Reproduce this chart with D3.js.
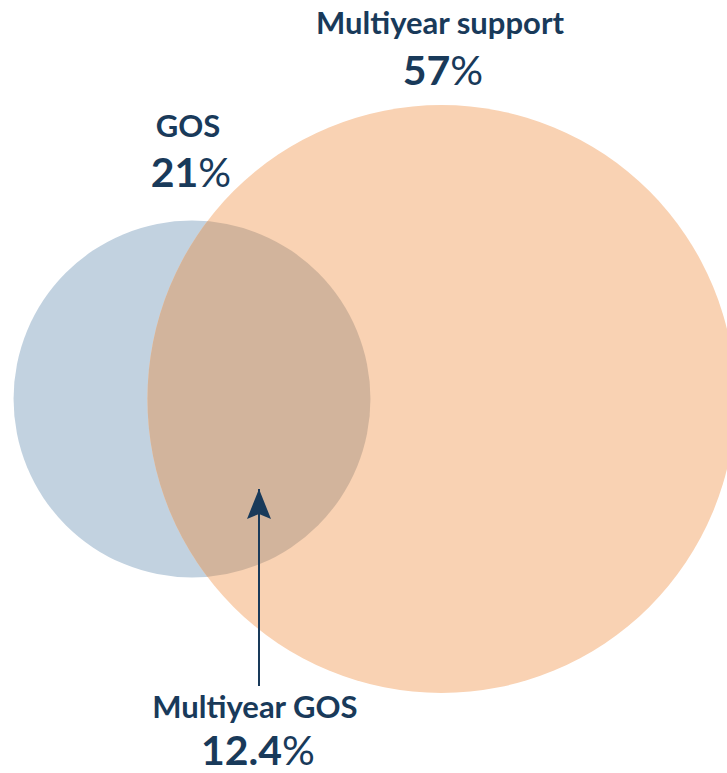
<!DOCTYPE html>
<html lang="en">
<head>
    <meta charset="UTF-8">
    <title>Multiyear GOS</title>
    <style>
        body { margin: 0; background: #fff; font-family: 'Lato', sans-serif; }
        svg { display: block; }
        .name { font-weight: 700; fill: #193a5a; }
        .num { fill: #193a5a; }
    </style>
</head>
<body>
<svg width="727" height="773"></svg>
<script src="https://d3js.org/d3.v7.min.js"></script>
<script>
    // Data
    const sets = ["GOS", "Multiyear support"];
    const shares = [21, 57];
    const overlapLabel = "Multiyear GOS";
    const overlapShare = 12.4;
    const colors = ["#c2d2e0", "#f9d2b3"];
    const overlapColor = "#d2b49c";

    const svg = d3.select("svg");
    const cy = 399;

    // radius proportional to sqrt of share
    const r = d3.scaleSqrt().domain([0, 57]).range([0, 294]);
    const r1 = r(shares[0]), r2 = r(shares[1]);

    // lens area of two circles at distance d
    function lens(d, a, b) {
        if (d >= a + b) return 0;
        if (d <= Math.abs(a - b)) return Math.PI * Math.min(a, b) ** 2;
        const p = a * a * Math.acos((d * d + a * a - b * b) / (2 * d * a));
        const q = b * b * Math.acos((d * d + b * b - a * a) / (2 * d * b));
        const s = 0.5 * Math.sqrt((-d + a + b) * (d + a - b) * (d - a + b) * (d + a + b));
        return p + q - s;
    }
    // find distance so the overlap matches its share
    const target = Math.PI * r1 * r1 * overlapShare / shares[0];
    let lo = Math.abs(r1 - r2), hi = r1 + r2;
    for (let i = 0; i < 60; i++) {
        const mid = (lo + hi) / 2;
        if (lens(mid, r1, r2) > target) lo = mid; else hi = mid;
    }
    const dist = (lo + hi) / 2;

    const x = d3.scaleLinear().domain([0, 1]).range([192, 192 + dist]);
    const circles = sets.map((s, i) => ({ name: s, share: shares[i], cx: x(i), r: r(shares[i]), color: colors[i] }));

    svg.append("defs").append("clipPath")
        .attr("id", "clipGos")
        .append("circle")
        .attr("cx", circles[0].cx).attr("cy", cy).attr("r", circles[0].r);

    svg.append("g").selectAll("circle")
        .data(circles)
        .join("circle")
        .attr("cx", d => d.cx)
        .attr("cy", cy)
        .attr("r", d => d.r)
        .attr("fill", d => d.color);

    // overlap region
    svg.append("circle")
        .attr("cx", circles[1].cx).attr("cy", cy).attr("r", circles[1].r)
        .attr("clip-path", "url(#clipGos)")
        .attr("fill", overlapColor);

    // arrow into the overlap
    const ax = 259;
    svg.select("defs").append("marker")
        .attr("id", "head")
        .attr("viewBox", "0 0 24 30")
        .attr("refX", 12).attr("refY", 0)
        .attr("markerWidth", 24).attr("markerHeight", 30)
        .attr("markerUnits", "userSpaceOnUse")
        .attr("orient", "0")
        .append("path")
        .attr("d", "M0,30 L12,0 L24,30 L12,25 Z")
        .attr("fill", "#193a5a");
    svg.append("line")
        .attr("x1", ax).attr("y1", 686)
        .attr("x2", ax).attr("y2", 489)
        .attr("stroke", "#193a5a")
        .attr("stroke-width", 2)
        .attr("marker-end", "url(#head)");

    // labels
    const labels = [
        { name: sets[1], value: shares[1], x: 440, y: 34, vy: 85 },
        { name: sets[0], value: shares[0], x: 188, y: 137, vy: 187 },
        { name: overlapLabel, value: overlapShare, x: 255, y: 718, vy: 765 }
    ];
    const lg = svg.append("g").selectAll("g").data(labels).join("g");
    lg.append("text")
        .attr("class", "name")
        .attr("x", d => d.x).attr("y", d => d.y)
        .attr("text-anchor", "middle")
        .attr("font-size", 31)
        .text(d => d.name);
    const vt = lg.append("text")
        .attr("class", "num")
        .attr("x", d => d.x + 3).attr("y", d => d.vy)
        .attr("text-anchor", "middle")
        .attr("font-size", 41);
    vt.append("tspan").attr("font-weight", 700).text(d => d.value);
    vt.append("tspan").attr("font-weight", 400).text("%");
</script>
</body>
</html>
